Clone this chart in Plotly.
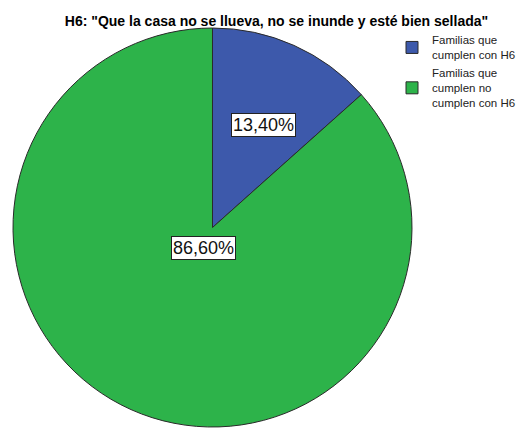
import math
import plotly.graph_objects as go

# ---- data ----
categories = ["Familias que<br>cumplen con H6", "Familias que<br>cumplen no<br>cumplen con H6"]
values = [13.40, 86.60]
value_labels = ["13,40%", "86,60%"]
title_text = 'H6: "Que la casa no se llueva, no se inunde y esté bien sellada"'

# ---- styles ----
colors = ["#3d59ab", "#2db34a"]
label_radius_frac = [0.63, 0.114]

W, H = 521, 428

def px(x):
    return x / W

def py(y):
    return 1 - y / H

# pie placement in screen pixels
sx_left, sx_right = 11, 414
sy_top, sy_bottom = 28, 427

fig = go.Figure()
fig.add_trace(go.Pie(
    labels=categories,
    values=values,
    sort=False,
    direction="clockwise",
    rotation=0,
    textinfo="none",
    hoverinfo="label+percent",
    marker=dict(colors=colors, line=dict(color="#2a2a2a", width=1)),
    domain=dict(x=[px(sx_left), px(sx_right)], y=[py(sy_bottom), py(sy_top)]),
    showlegend=True,
))

# label annotations positioned from data (mid-angle of each slice)
cx = (sx_left + sx_right) / 2
cy = (sy_top + sy_bottom) / 2
r = min(sx_right - sx_left, sy_bottom - sy_top) / 2
total = sum(values)
cum = 0.0
for v, lab, frac in zip(values, value_labels, label_radius_frac):
    mid = (cum + v / 2) / total * 2 * math.pi
    cum += v
    x = cx + frac * r * math.sin(mid)
    y = cy - frac * r * math.cos(mid)
    fig.add_annotation(
        x=px(x), y=py(y), xref="paper", yref="paper",
        text=lab, showarrow=False,
        font=dict(family="Liberation Sans, Arial, sans-serif", size=18, color="#111111"),
        bgcolor="white", bordercolor="#222222", borderwidth=1, borderpad=1,
    )

fig.update_layout(
    width=W, height=H,
    margin=dict(l=0, r=0, t=0, b=0),
    paper_bgcolor="white",
    plot_bgcolor="white",
    title=dict(
        text="<b>" + title_text + "</b>",
        x=px(276.5), xanchor="center",
        y=py(21), yanchor="middle",
        font=dict(family="Liberation Sans, Arial, sans-serif", size=14, color="#000000"),
    ),
    legend=dict(
        x=px(392), y=py(26), xanchor="left", yanchor="top",
        font=dict(family="Liberation Sans, Arial, sans-serif", size=11.5, color="#222222"),
        bgcolor="rgba(0,0,0,0)",
        itemwidth=30,
        tracegroupgap=0,
    ),
)

fig.write_html(
    "out.html",
    config={"displayModeBar": False},
    post_script="document.body.style.margin='0';document.body.style.overflow='hidden';",
)
